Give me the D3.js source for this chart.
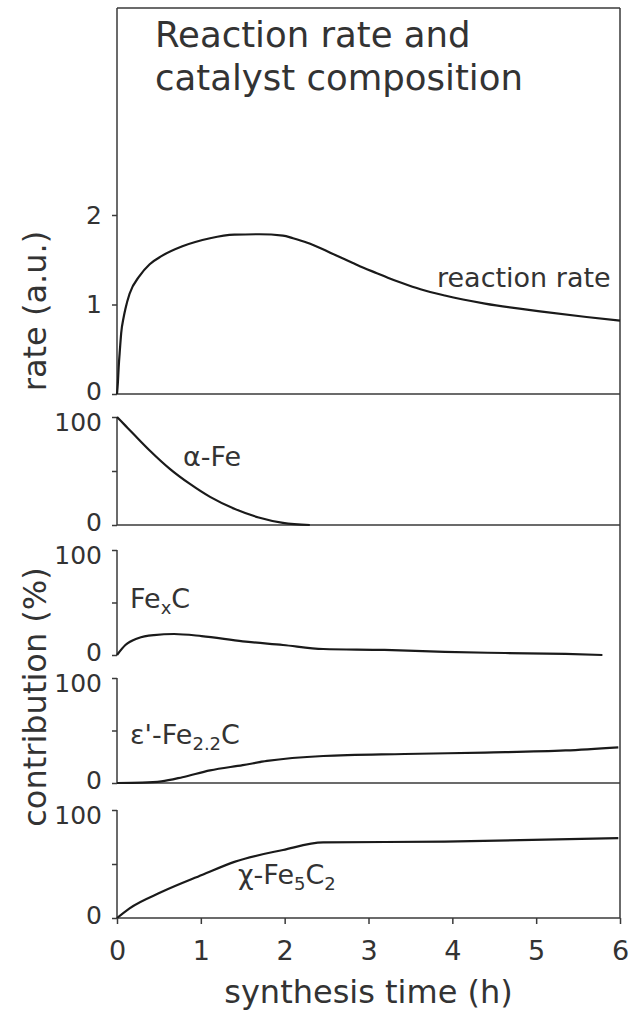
<!DOCTYPE html>
<html>
<head>
<meta charset="utf-8">
<script src="https://cdn.jsdelivr.net/npm/d3@7"></script>
<style>
html,body{margin:0;padding:0;background:#fff;}
svg{display:block;}
text{font-family:"DejaVu Sans",Verdana,sans-serif;fill:#333;}
</style>
</head>
<body>
<svg id="chart" width="635" height="1018"></svg>
<script>
// ---- data ----
const titleLines = ["Reaction rate and", "catalyst composition"];
const xTicks = [0, 1, 2, 3, 4, 5, 6];

const rateTime = [0, 0.01, 0.02, 0.035, 0.05, 0.08, 0.1, 0.15, 0.27, 0.39, 0.53, 0.78, 1.11, 1.4, 1.7, 1.98, 2.1, 2.27, 2.45, 2.61, 2.8, 2.94, 3.1, 3.23, 3.4, 3.62, 3.91, 4.39, 5.07, 5.6, 6.0];
const rateVal  = [0, 0.12, 0.3, 0.5, 0.68, 0.86, 0.95, 1.12, 1.32, 1.45, 1.54, 1.65, 1.74, 1.78, 1.785, 1.77, 1.74, 1.69, 1.62, 1.55, 1.47, 1.41, 1.35, 1.30, 1.24, 1.17, 1.10, 1.01, 0.92, 0.86, 0.82];

const alphaTime = [0, 0.1, 0.2, 0.39, 0.63, 0.87, 1.11, 1.4, 1.69, 1.98, 2.3];
const alphaVal  = [100, 92, 84, 69, 52, 38, 26, 15, 7, 2, 0];

const fexcTime = [0, 0.1, 0.25, 0.44, 0.68, 1.01, 1.5, 1.98, 2.46, 3.19, 3.91, 4.63, 5.35, 5.79];
const fexcVal  = [0, 9.5, 16, 19, 20, 18, 13, 9.5, 5.7, 4.8, 2.9, 1.9, 1, 0];

const epsTime = [0, 0.3, 0.53, 0.78, 1.11, 1.5, 1.79, 2.46, 3.43, 4.39, 5.35, 5.98];
const epsVal  = [0, 0.3, 1.5, 5.5, 12, 17, 21, 25.7, 27.6, 29, 31, 34];

const chiTime = [0, 0.15, 0.53, 1.02, 1.4, 1.98, 2.46, 3.91, 5.98];
const chiVal  = [0, 9, 24, 40, 52, 63, 70, 70.7, 74];

const rateTicks = [0, 1, 2];
const pctTicks = [0, 50, 100];
const pctTickLabels = ["0", "", "100"];

// ---- layout ----
const svg = d3.select("#chart");
const plotLeft = 117, plotRight = 620, plotTop = 8, plotBottom = 918;
const x = d3.scaleLinear().domain([0, 6]).range([plotLeft, plotRight]);

const panels = [
  {domain: [0, 2], range: [394, 215], axisTop: plotTop, bottomLine: true, ticks: rateTicks, labels: ["0","1","2"], t: rateTime, v: rateVal},
  {domain: [0, 100], range: [525, 417], axisTop: 417, bottomLine: true, ticks: pctTicks, labels: pctTickLabels, t: alphaTime, v: alphaVal},
  {domain: [0, 100], range: [655, 550], axisTop: 550, bottomLine: false, ticks: pctTicks, labels: pctTickLabels, t: fexcTime, v: fexcVal},
  {domain: [0, 100], range: [783, 678], axisTop: 678, bottomLine: true, ticks: pctTicks, labels: pctTickLabels, t: epsTime, v: epsVal},
  {domain: [0, 100], range: [plotBottom, 810], axisTop: 810, bottomLine: true, ticks: pctTicks, labels: pctTickLabels, t: chiTime, v: chiVal}
];

const frameColor = "#3a3a3a";
svg.append("line").attr("x1", plotLeft).attr("x2", plotRight).attr("y1", plotTop).attr("y2", plotTop)
  .attr("stroke", frameColor).attr("stroke-width", 1.5);
svg.append("line").attr("x1", plotRight).attr("x2", plotRight).attr("y1", plotTop).attr("y2", plotBottom)
  .attr("stroke", frameColor).attr("stroke-width", 1.5);

panels.forEach(p => {
  const y = d3.scaleLinear().domain(p.domain).range(p.range);
  svg.append("line").attr("x1", plotLeft).attr("x2", plotLeft)
    .attr("y1", p.axisTop).attr("y2", y(0))
    .attr("stroke", frameColor).attr("stroke-width", 1.5);
  if (p.bottomLine) {
    svg.append("line").attr("x1", plotLeft).attr("x2", plotRight)
      .attr("y1", y(0)).attr("y2", y(0))
      .attr("stroke", frameColor).attr("stroke-width", 1.5);
  }
  const axis = d3.axisLeft(y).tickValues(p.ticks).tickSize(5).tickPadding(10)
    .tickFormat((d, i) => p.labels[i]);
  const g = svg.append("g").attr("transform", `translate(${plotLeft},0)`).call(axis);
  g.select(".domain").remove();
  g.selectAll(".tick line").attr("stroke", frameColor).attr("stroke-width", 1.5);
  g.selectAll(".tick text").attr("font-size", 25).attr("fill", "#484848")
    .style("font-family", "'DejaVu Sans', sans-serif")
    .attr("y", d => d === 0 ? -3 : (d === p.domain[1] && p.domain[1] === 100 ? 5 : 0));
  const line = d3.line().x(d => x(d[0])).y(d => y(d[1])).curve(d3.curveMonotoneX);
  svg.append("path").datum(p.t.map((t, i) => [t, p.v[i]]))
    .attr("d", line).attr("fill", "none").attr("stroke", "#1a1a1a").attr("stroke-width", 2.2);
});

const xAxis = d3.axisBottom(x).tickValues(xTicks).tickSize(6).tickPadding(17).tickFormat(d3.format("d"));
const gx = svg.append("g").attr("transform", `translate(0,${plotBottom})`).call(xAxis);
gx.select(".domain").remove();
gx.selectAll(".tick line").attr("stroke", frameColor).attr("stroke-width", 1.5);
gx.selectAll(".tick text").attr("font-size", 27).attr("fill", "#2a2a2a")
  .style("font-family", "'DejaVu Sans', sans-serif");

svg.append("text").attr("x", 155).attr("y", 47).attr("font-size", 35.5).text(titleLines[0]);
svg.append("text").attr("x", 155).attr("y", 90).attr("font-size", 35.5).text(titleLines[1]);

svg.append("text").attr("x", 437).attr("y", 287).attr("font-size", 27).text("reaction rate");
svg.append("text").attr("x", 183).attr("y", 466).attr("font-size", 27).text("α-Fe");
const fx = svg.append("text").attr("x", 130).attr("y", 608).attr("font-size", 27);
fx.append("tspan").text("Fe");
fx.append("tspan").attr("dy", 6).attr("font-size", 18).text("x");
fx.append("tspan").attr("dy", -6).text("C");
const ep = svg.append("text").attr("x", 130).attr("y", 744).attr("font-size", 27);
ep.append("tspan").text("ε'-Fe");
ep.append("tspan").attr("dy", 6).attr("font-size", 18).text("2.2");
ep.append("tspan").attr("dy", -6).text("C");
const ch = svg.append("text").attr("x", 238).attr("y", 884).attr("font-size", 27);
ch.append("tspan").text("χ-Fe");
ch.append("tspan").attr("dy", 6).attr("font-size", 18).text("5");
ch.append("tspan").attr("dy", -6).text("C");
ch.append("tspan").attr("dy", 6).attr("font-size", 18).text("2");

svg.append("text").attr("x", (plotLeft + plotRight) / 2).attr("y", 1003).attr("font-size", 32)
  .attr("text-anchor", "middle").text("synthesis time (h)");
svg.append("text").attr("transform", "translate(46,311) rotate(-90)").attr("font-size", 32)
  .attr("text-anchor", "middle").text("rate (a.u.)");
svg.append("text").attr("transform", "translate(46,697) rotate(-90)").attr("font-size", 32)
  .attr("text-anchor", "middle").text("contribution (%)");
</script>
</body>
</html>
